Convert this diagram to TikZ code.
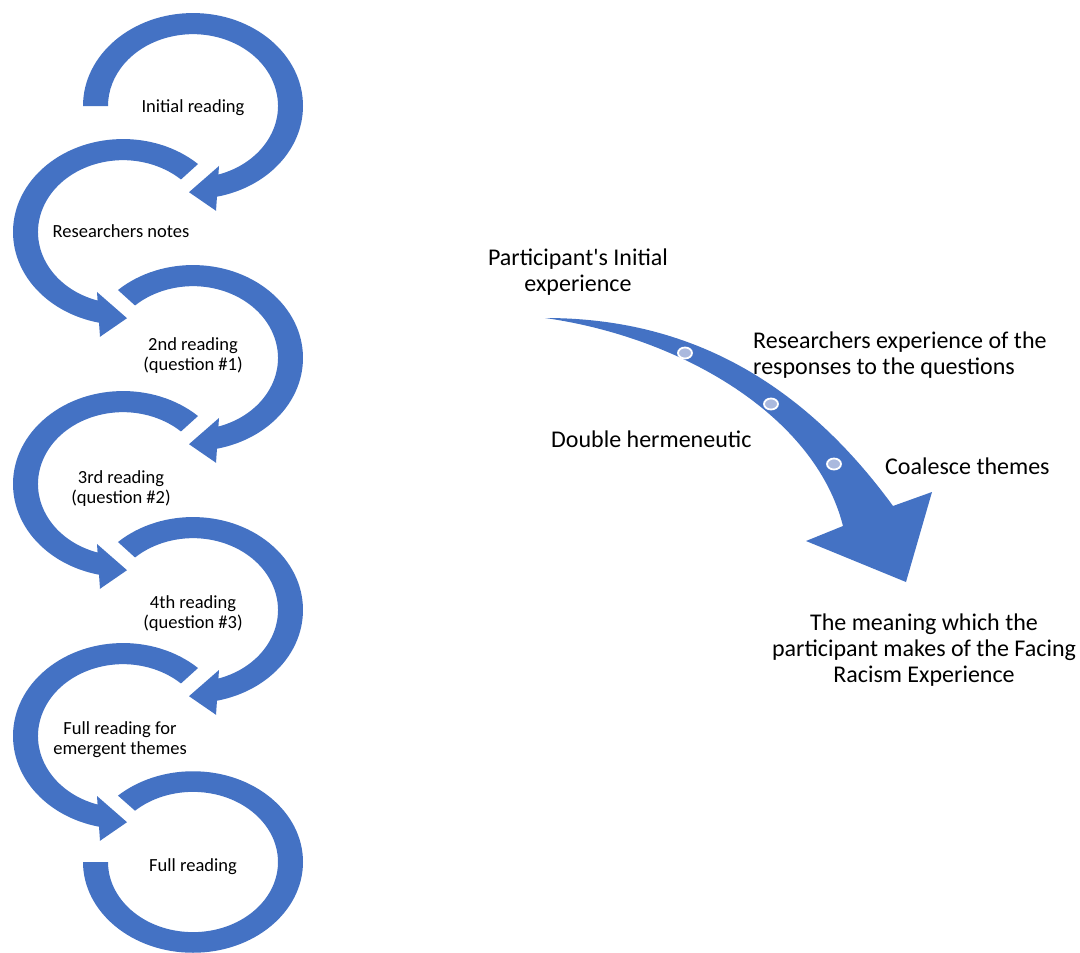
\documentclass[tikz,border=0pt]{standalone}
\usepackage{fontspec}
\setmainfont{Carlito}
\newfontfamily\carl{Carlito}
\usetikzlibrary{shapes.geometric}
\definecolor{ablue}{HTML}{4472C4}
\definecolor{dotfill}{HTML}{AAB9DE}
\tikzset{
  pics/cycarrow/.style={code={
    \fill[ablue] (#1:110) arc[start angle=#1, end angle=-77.4, radius=110]
      -- (23,-124) -- (-4,-102) -- (26,-71) -- (-72.6:85)
      arc[start angle=-72.6, end angle=#1, radius=85] -- cycle;
  }},
  pics/cycend/.style={code={
    \fill[ablue] (180:110) arc[start angle=180, end angle=493, radius=110]
      -- (493:85) arc[start angle=493, end angle=180, radius=85] -- cycle;
  }},
}
\begin{document}
\begin{tikzpicture}[x=1pt,y=-1pt,
  small/.style={font=\carl\fontsize{18.5}{20}\selectfont, align=center, inner sep=0pt, text=black},
  big/.style={font=\carl\fontsize{24}{26}\selectfont, inner sep=0pt, text=black},
  dotmark/.style={shape=ellipse, fill=dotfill, draw=white, line width=1.8pt, minimum width=14, minimum height=11, inner sep=0pt}]
\useasboundingbox (0,0) rectangle (1080,953);
\fill[white] (0,0) rectangle (1080,953);

% circular steps
\pic[yscale=-0.845] at (193,106) {cycarrow=180};
\pic[xscale=-1,yscale=-0.845] at (123,232) {cycarrow=133};
\pic[yscale=-0.845] at (193,358) {cycarrow=133};
\pic[xscale=-1,yscale=-0.845] at (123,484) {cycarrow=133};
\pic[yscale=-0.845] at (193,610) {cycarrow=133};
\pic[xscale=-1,yscale=-0.845] at (123,736) {cycarrow=133};
\pic[yscale=-0.825] at (193,862) {cycend};

\node[small] (s1) at (193,108) {Initial reading};
\node[small] (s2) at (121,231) {Researchers notes};
\node[small] (s3) at (193,356) {2nd reading\\(question \#1)};
\node[small] (s4) at (121,489) {3rd reading\\(question \#2)};
\node[small] (s5) at (193,614) {4th reading\\(question \#3)};
\node[small] (s6) at (120,740) {Full reading for\\emergent themes};
\node[small] (s7) at (193,867) {Full reading};

% big curved arrow
\fill[ablue] (545,318) .. controls (660,318) and (785,358) .. (893,506)
  -- (932,492) -- (906,582) -- (806,541) -- (843,526)
  .. controls (815,415) and (680,337) .. (545,318) -- cycle;
\node[dotmark] (d1) at (685,353) {};
\node[dotmark] (d2) at (771,404) {};
\node[dotmark] (d3) at (834,464) {};

\node[big, align=center] (t1) at (578,272) {Participant's Initial\\experience};
\node[big, align=left, anchor=west] (t2) at (753,355) {Researchers experience of the\\responses to the questions};
\node[big, anchor=west] (t3) at (551,439) {Double hermeneutic};
\node[big, anchor=west] (t4) at (885,466) {Coalesce themes};
\node[big, align=center] (t5) at (924,650) {The meaning which the\\participant makes of the Facing\\Racism Experience};
\end{tikzpicture}
\end{document}
